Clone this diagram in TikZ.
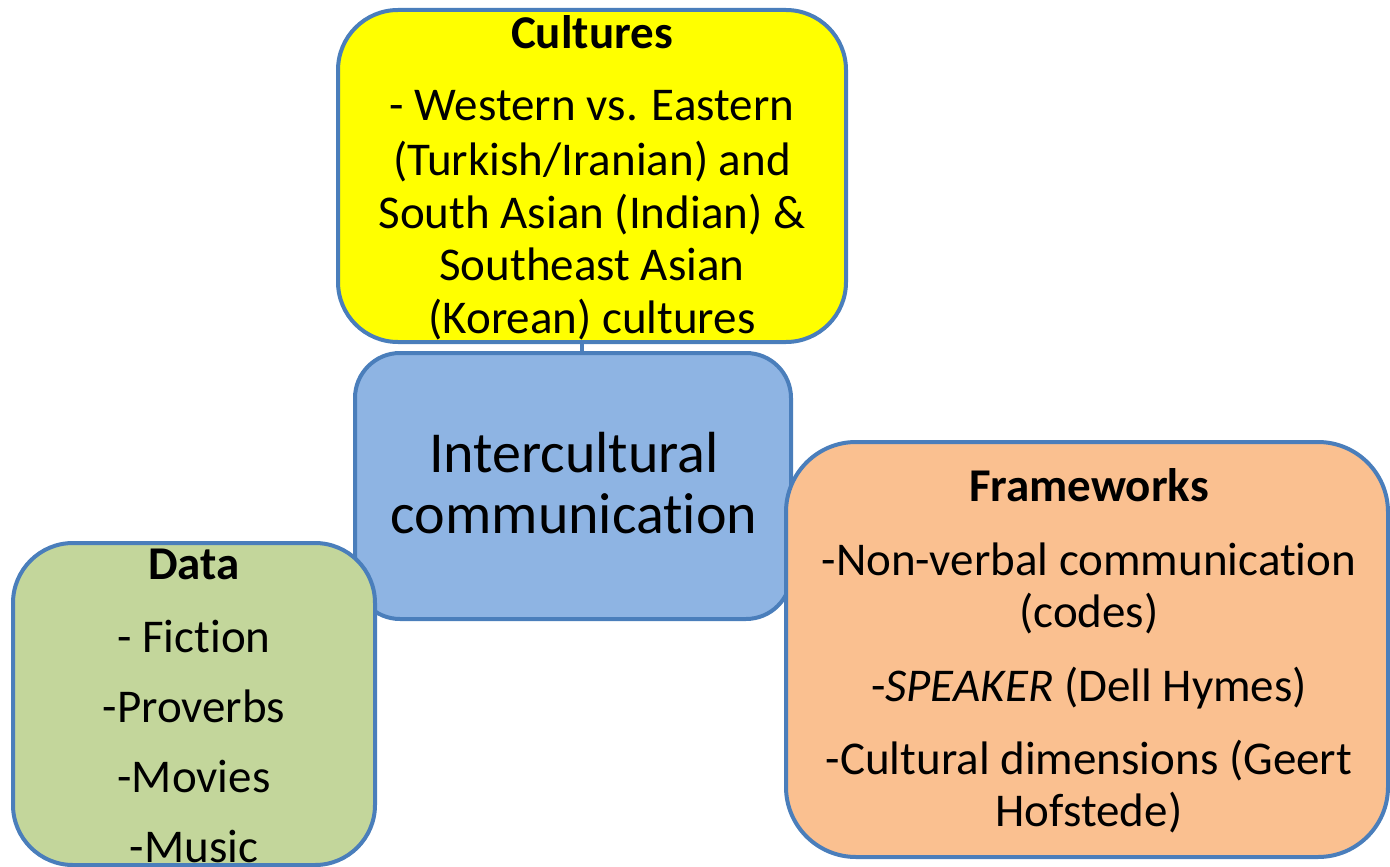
\documentclass[tikz,border=0pt]{standalone}
\usepackage{fontspec}
\setmainfont{Carlito}[Ligatures={NoCommon}, RawFeature={-liga;-clig;-dlig}]
\definecolor{edgeblue}{HTML}{4A7EBB}
\definecolor{cultfill}{HTML}{FFFF00}
\definecolor{centfill}{HTML}{8EB4E3}
\definecolor{framefill}{HTML}{FAC090}
\definecolor{datafill}{HTML}{C3D69B}
\tikzset{
  box/.style={draw=edgeblue, line width=4pt, rectangle, inner sep=0pt},
  body/.style={anchor=base, inner sep=0pt, font=\fontsize{47}{52}\selectfont},
  title/.style={anchor=base, inner sep=0pt, font=\fontsize{47}{52}\selectfont\bfseries},
  big/.style={anchor=base, inner sep=0pt, font=\fontsize{58}{60}\selectfont},
  link/.style={draw=edgeblue, line width=4pt}
}
\begin{document}
\begin{tikzpicture}[x=1pt, y=-1pt]
\useasboundingbox (0,0) rectangle (1390,867);
\clip (0,0) rectangle (1390,867);
% center box
\node[box, fill=centfill, rounded corners=45pt, minimum width=436pt, minimum height=266pt] (cent) at (573,486) {};
% cultures box
\node[box, fill=cultfill, rounded corners=60pt, minimum width=508pt, minimum height=332pt] (cult) at (592,176) {};
\coordinate (lx) at (582,0);
\draw[link] (cult.south -| lx) -- (cent.north -| lx);
% data box
\node[box, fill=datafill, rounded corners=60pt, minimum width=362pt, minimum height=322pt] (data) at (194,704) {};
% frameworks box
\node[box, fill=framefill, rounded corners=70pt, minimum width=602pt, minimum height=415pt] (frame) at (1087,649.5) {};

% texts
\node[title] (ct) at (592,49) {Cultures};
\node[body] (c1) at (592,121) {- Western vs. Eastern};
\node[body] (c2) at (592,175) {(Turkish/Iranian) and};
\node[body] (c3) at (592,228) {South Asian (Indian) \&};
\node[body] (c4) at (592,280) {Southeast Asian};
\node[body] (c5) at (592,333) {(Korean) cultures};

\node[big] (m1) at (574,472) {Intercultural};
\node[big] (m2) at (574,533) {communication};

\node[title] (dt) at (194,579) {Data};
\node[body] (d1) at (194,652) {- Fiction};
\node[body] (d2) at (194,722) {-Proverbs};
\node[body] (d3) at (194,792) {-Movies};
\node[body] (d4) at (194,862) {-Music};

\node[title] (ft) at (1089,501) {Frameworks};
\node[body] (f1) at (1089,575) {-Non-verbal communication};
\node[body] (f2) at (1089,627) {(codes)};
\node[body] (f3) at (1089,701) {-\textit{SPEAKER} (Dell Hymes)};
\node[body] (f4) at (1089,774) {-Cultural dimensions (Geert};
\node[body] (f5) at (1089,826) {Hofstede)};
\end{tikzpicture}
\end{document}
